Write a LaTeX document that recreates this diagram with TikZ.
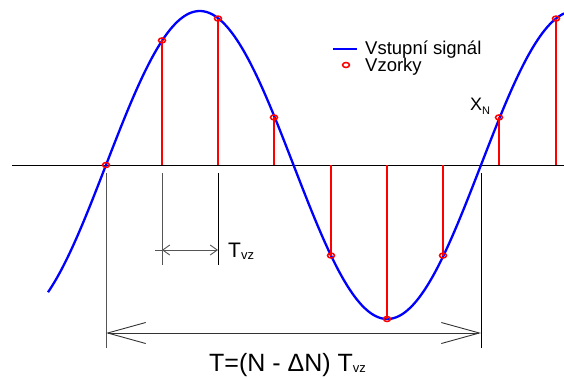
\documentclass[tikz,border=0pt]{standalone}
\usepackage{fontspec}
\setmainfont{Liberation Sans}
\usepackage{tikz}
\usetikzlibrary{positioning, arrows.meta, calc}
\definecolor{SignalBlue}{RGB}{0,0,255}
\definecolor{SampleRed}{RGB}{255,0,0}
\definecolor{DimGray}{RGB}{85,85,85}
\newcommand{\lowidx}[2]{\raisebox{-#2}{\fontsize{13}{13}\selectfont #1}}

\begin{document}
\begin{tikzpicture}[x=1pt, y=-1pt,
    signal/.style={SignalBlue, line width=2.3pt},
    stem/.style={SampleRed, line width=2pt},
    sample/.style={draw=SampleRed, line width=1.5pt},
    dimline/.style={DimGray, line width=0.9pt},
    lbl/.style={inner sep=0pt, anchor=base west}]
                \useasboundingbox (0,0) rectangle (564,378);
                % Eje
                \coordinate (AxL) at (12,165);
                \coordinate (AxR) at (564,165);
                \draw[black, line width=1pt] (AxL) -- (AxR);
                
                % Senal
                \draw[signal] plot[domain=48:564, samples=220, smooth] (\x, {165-154*sin((\x-106)*0.96)});
                
                % Muestras
                \foreach \i in {0,...,8}{
                    \pgfmathsetmacro{\sx}{floor(106+56.25*\i)}
                    \pgfmathsetmacro{\sy}{165-154*sin(\i*54)}
                    \coordinate (B\i) at (\sx,165);
                    \coordinate (S\i) at (\sx,\sy);
                    \draw[stem] (B\i) -- (S\i);
                    \draw[sample] (S\i) ellipse [x radius=3.5pt, y radius=2.5pt];
                }
                
                % Cotas
                \coordinate (L0t) at (106,173);
                \coordinate (L0b) at (106,348);
                \coordinate (L1t) at (162,173);
                \coordinate (L1b) at (162,265);
                \coordinate (L2t) at (218,173);
                \coordinate (L2b) at (218,265);
                \coordinate (L3t) at (481,173);
                \coordinate (L3b) at (481,348);
                \draw[dimline] (L0t) -- (L0b);
                \draw[dimline] (L1t) -- (L1b);
                \draw[dimline, black] (L2t) -- (L2b);
                \draw[dimline, black] (L3t) -- (L3b);
                
                \coordinate (TvE) at (155,250);
                \coordinate (TvA) at (162,250);
                \coordinate (TvB) at (218,250);
                \draw[dimline] (TvE) -- (TvA);
                \draw[dimline, {Straight Barb[length=7pt, width=10pt]}-{Straight Barb[length=7pt, width=10pt]}] (TvA) -- (TvB);
                
                \coordinate (TA) at (106,333);
                \coordinate (TB) at (481,333);
                \draw[dimline, black!80, {Straight Barb[length=38pt, width=21pt]}-{Straight Barb[length=38pt, width=21pt]}] (TA) -- (TB);
                
                % Textos
                \node[lbl, font=\fontsize{21}{21}\selectfont] (Tvz) at (228,257) {T\lowidx{vz}{2pt}};
                \node[lbl, font=\fontsize{25}{25}\selectfont] (Tper) at (209,371) {T=(N - ΔN) T\lowidx{vz}{1pt}};
                \node[lbl, font=\fontsize{18}{18}\selectfont] (XN) at (470,110) {X\raisebox{-4pt}{\fontsize{11}{11}\selectfont N}};
                
                % Leyenda
                \coordinate (LegA) at (333,49);
                \coordinate (LegB) at (357,49);
                \coordinate (LegM) at (346,65);
                \draw[signal] (LegA) -- (LegB);
                \draw[sample] (LegM) ellipse [x radius=3.5pt, y radius=2.5pt];
                \node[lbl, font=\fontsize{18.5}{18.5}\selectfont] (LegSig) at (365,54) {Vstupní signál};
                \node[lbl, font=\fontsize{18.5}{18.5}\selectfont] (LegVz) at (365,71) {Vzorky};
                
\end{tikzpicture}
\end{document}
